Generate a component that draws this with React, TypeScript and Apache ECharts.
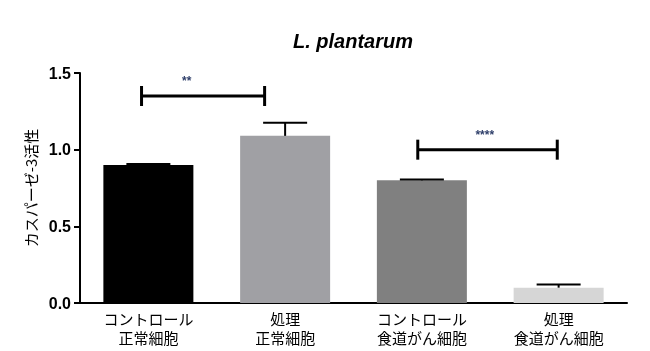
import React, { useEffect, useRef } from "react";
import * as echarts from "echarts";

const categories = ["コントロール\n正常細胞", "処理\n正常細胞", "コントロール\n食道がん細胞", "処理\n食道がん細胞"];
const meanValues = [0.9, 1.09, 0.8, 0.1];
const upperValues = [0.907, 1.175, 0.805, 0.12];
const barColors = ["#000000", "#a0a0a4", "#808080", "#d6d6d6"];
const yTicks = [0, 0.5, 1.0, 1.5];
// brackets: [start position (category units), end position, y value, label position, label]
const bracketStart = [-0.05, 1.97];
const bracketEnd = [0.85, 2.99];
const bracketY = [1.35, 1.0];
const bracketLabelX = [0.28, 2.46];
const bracketLabels = ["**", "****"];

export default function App() {
  const ref = useRef<HTMLDivElement>(null);
  useEffect(() => {
    if (!ref.current) return;
    const chart = echarts.init(ref.current, undefined, { renderer: "svg" });
    const catX = (api: any, v: number, y: number) => {
      const base = Math.round(v);
      const frac = v - base;
      const bw = api.size([1, 0])[0];
      const p = api.coord([base, y]);
      return [p[0] + frac * bw, p[1]];
    };
    chart.setOption({
      animation: false,
      title: {
        text: "L. plantarum",
        left: 288,
        top: 26,
        textStyle: {
          fontFamily: "Liberation Sans",
          fontSize: 20,
          fontWeight: "bold",
          fontStyle: "italic",
          color: "#000",
        },
      },
      grid: { left: 80, right: 23, top: 73, bottom: 48 },
      xAxis: {
        type: "category",
        data: categories,
        axisLine: { lineStyle: { color: "#000", width: 2 } },
        axisTick: { alignWithLabel: true, length: 6, lineStyle: { color: "#000", width: 2 } },
        axisLabel: {
          color: "#000",
          fontFamily: "Noto Sans CJK JP",
          fontSize: 15,
          lineHeight: 19,
          margin: 6,
          interval: 0,
        },
      },
      yAxis: {
        type: "value",
        min: yTicks[0],
        max: yTicks[yTicks.length - 1],
        interval: 0.5,
        name: "カスパーゼ-3活性",
        nameLocation: "middle",
        nameGap: 36,
        nameTextStyle: { color: "#000", fontFamily: "Noto Sans CJK JP", fontSize: 15 },
        axisLine: { show: true, lineStyle: { color: "#000", width: 2 } },
        axisTick: { show: true, length: 6, lineStyle: { color: "#000", width: 2 } },
        splitLine: { show: false },
        axisLabel: {
          color: "#000",
          fontFamily: "Liberation Sans",
          fontWeight: "bold",
          fontSize: 16,
          margin: 9,
          formatter: (v: number) => v.toFixed(1),
        },
      },
      series: [
        {
          type: "bar",
          barWidth: 90,
          data: meanValues.map((v, i) => ({ value: v, itemStyle: { color: barColors[i] } })),
        },
        {
          type: "custom",
          data: meanValues.map((v, i) => [i, v, upperValues[i]]),
          z: 5,
          renderItem: (params: any, api: any) => {
            const lo = api.coord([api.value(0), api.value(1)]);
            const hi = api.coord([api.value(0), api.value(2)]);
            const half = 22;
            const st = { stroke: "#000", lineWidth: 2 };
            return {
              type: "group",
              children: [
                { type: "line", shape: { x1: lo[0], y1: lo[1], x2: hi[0], y2: hi[1] }, style: st },
                { type: "line", shape: { x1: hi[0] - half, y1: hi[1], x2: hi[0] + half, y2: hi[1] }, style: st },
              ],
            };
          },
        },
        {
          type: "custom",
          data: bracketStart.map((s, i) => [s, bracketEnd[i], bracketY[i], bracketLabelX[i]]),
          z: 6,
          renderItem: (params: any, api: any) => {
            const y = api.value(2);
            const a = catX(api, api.value(0), y);
            const b = catX(api, api.value(1), y);
            const l = catX(api, api.value(3), y);
            const st = { stroke: "#000", lineWidth: 3 };
            const h = 10;
            return {
              type: "group",
              children: [
                { type: "line", shape: { x1: a[0], y1: a[1], x2: b[0], y2: b[1] }, style: st },
                { type: "line", shape: { x1: a[0], y1: a[1] - h, x2: a[0], y2: a[1] + h }, style: st },
                { type: "line", shape: { x1: b[0], y1: b[1] - h, x2: b[0], y2: b[1] + h }, style: st },
                {
                  type: "text",
                  x: l[0],
                  y: l[1] - 9,
                  style: {
                    text: bracketLabels[params.dataIndex],
                    align: "center",
                    verticalAlign: "bottom",
                    fill: "#2f3f6a",
                    font: "bold 12px Liberation Sans",
                  },
                },
              ],
            };
          },
        },
      ],
    });
    return () => chart.dispose();
  }, []);
  return <div ref={ref} style={{ position: "fixed", left: 0, top: 0, width: 650, height: 351 }} />;
}
